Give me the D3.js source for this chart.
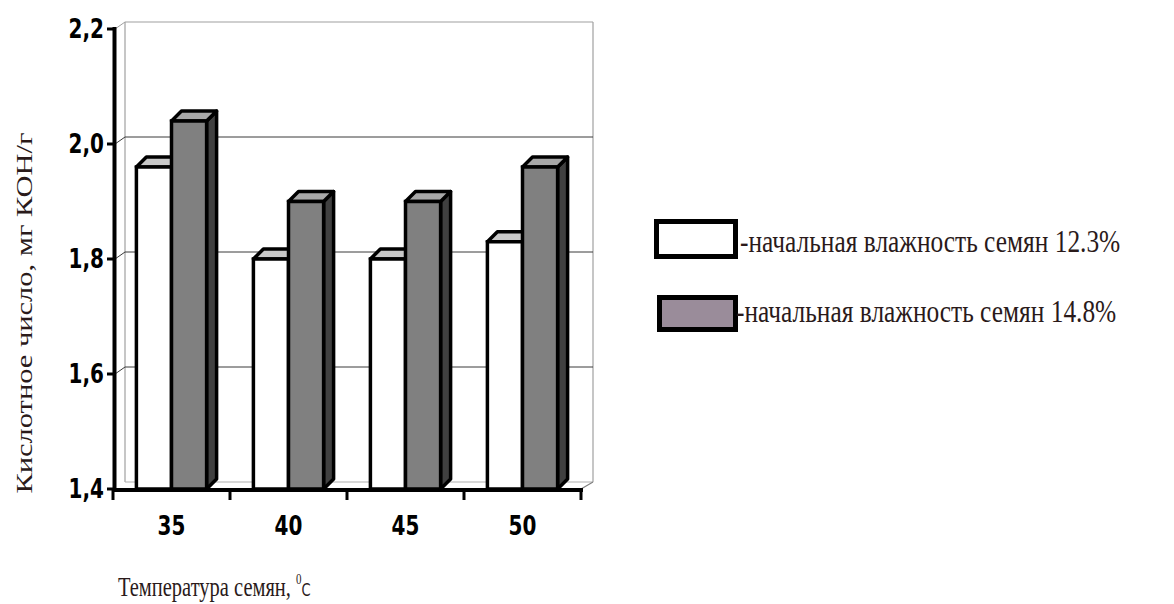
<!DOCTYPE html>
<html>
<head>
<meta charset="utf-8">
<script src="https://cdn.jsdelivr.net/npm/d3@7"></script>
<style>
  html, body { margin: 0; padding: 0; background: #fff; }
  svg { display: block; }
</style>
</head>
<body>
<svg id="chart" width="1174" height="604"></svg>
<script>
// Seed temperature groups and acid number per initial moisture level
const categories = ["35", "40", "45", "50"];
const moisture123 = [1.96, 1.80, 1.80, 1.83];
const moisture148 = [2.04, 1.90, 1.90, 1.96];
const yTicks = [1.4, 1.6, 1.8, 2.0, 2.2];
const yTickLabels = ["1,4", "1,6", "1,8", "2,0", "2,2"];
const seriesNames = ["-начальная влажность семян 12.3%", "-начальная влажность семян 14.8%"];
const yTitle = "Кислотное число, мг КОН/г";
const xTitle = "Температура семян, ";

const svg = d3.select("#chart");
const SY = 1.36;              // vertical stretch of the lettering
const wall = { dx: 12, dy: -7 };  // offset of the back wall
const depth = { dx: 10, dy: -10 }; // column depth

const x = d3.scaleBand().domain(categories).range([113, 581]).padding(0);
const y = d3.scaleLinear().domain([1.4, 2.2]).range([489, 29]);
const baseY = y(1.4);

// back wall and floor
const g = svg.append("g");
const wx0 = 113 + wall.dx, wx1 = 581 + wall.dx;
g.append("line").attr("x1", wx0).attr("x2", wx0)
  .attr("y1", y(2.2) + wall.dy).attr("y2", baseY + wall.dy)
  .attr("stroke", "#a0a0a0").attr("stroke-width", 1.2);
g.append("line").attr("x1", wx1).attr("x2", wx1)
  .attr("y1", y(2.2) + wall.dy).attr("y2", baseY + wall.dy)
  .attr("stroke", "#a0a0a0").attr("stroke-width", 1.2);
g.append("line").attr("x1", wx0).attr("x2", wx1)
  .attr("y1", baseY + wall.dy).attr("y2", baseY + wall.dy)
  .attr("stroke", "#b0b0b0").attr("stroke-width", 1.2);
g.append("line").attr("x1", wx1).attr("x2", 581)
  .attr("y1", baseY + wall.dy).attr("y2", baseY)
  .attr("stroke", "#808080").attr("stroke-width", 1.2);

// gridlines on the back wall, joined to the axis ticks
yTicks.filter(v => v > 1.4).forEach(v => {
  const top = v === 2.2;
  g.append("line").attr("x1", wx0).attr("x2", wx1)
    .attr("y1", y(v) + wall.dy).attr("y2", y(v) + wall.dy)
    .attr("stroke", top ? "#a0a0a0" : "#3a3a3a").attr("stroke-width", top ? 1.2 : 1);
  g.append("line").attr("x1", 115).attr("x2", wx0)
    .attr("y1", y(v)).attr("y2", y(v) + wall.dy)
    .attr("stroke", top ? "#a0a0a0" : "#3a3a3a").attr("stroke-width", 1);
});

// 3D columns
const bw = x.bandwidth() * 0.3;
const series = [
  { values: moisture123, front: "#ffffff", top: "#c8c8c8", side: "#9a9a9a", off: -bw },
  { values: moisture148, front: "#808080", top: "#a8a8a8", side: "#404040", off: 0 }
];
const bars = svg.append("g");
categories.forEach((c, i) => {
  const cx = x(c) + x.bandwidth() / 2;
  series.forEach(s => {
    const x0 = cx + s.off, x1 = x0 + bw;
    const yt = y(s.values[i]);
    const sw = 3.5;
    // right side
    bars.append("path")
      .attr("d", `M${x1},${baseY} L${x1 + depth.dx},${baseY + depth.dy} L${x1 + depth.dx},${yt + depth.dy} L${x1},${yt} Z`)
      .attr("fill", s.side).attr("stroke", "#000").attr("stroke-width", sw).attr("stroke-linejoin", "round");
    // top
    bars.append("path")
      .attr("d", `M${x0},${yt} L${x0 + depth.dx},${yt + depth.dy} L${x1 + depth.dx},${yt + depth.dy} L${x1},${yt} Z`)
      .attr("fill", s.top).attr("stroke", "#000").attr("stroke-width", sw).attr("stroke-linejoin", "round");
    // front
    bars.append("rect")
      .attr("x", x0).attr("y", yt).attr("width", bw).attr("height", baseY - yt)
      .attr("fill", s.front).attr("stroke", "#000").attr("stroke-width", sw);
  });
});

// axes
const ax = svg.append("g");
ax.append("line").attr("x1", 114.5).attr("x2", 114.5).attr("y1", 27).attr("y2", 492)
  .attr("stroke", "#000").attr("stroke-width", 4);
ax.append("line").attr("x1", 112).attr("x2", 583).attr("y1", 490).attr("y2", 490)
  .attr("stroke", "#000").attr("stroke-width", 4);
yTicks.forEach(v => {
  ax.append("line").attr("x1", 107).attr("x2", 115).attr("y1", y(v)).attr("y2", y(v))
    .attr("stroke", "#000").attr("stroke-width", 3);
});
const bounds = categories.map(c => x(c)).concat([x(categories[categories.length - 1]) + x.bandwidth()]);
bounds.forEach(bx => {
  ax.append("line").attr("x1", bx).attr("x2", bx).attr("y1", 490).attr("y2", 500)
    .attr("stroke", "#000").attr("stroke-width", 3);
});

// stretched text helper
function label(px, py, txt, opts) {
  const t = svg.append("text")
    .attr("transform", `translate(${px},${py}) ${opts.rotate ? "rotate(-90) scale(" + SY + ",1)" : "scale(1," + (opts.sy || SY) + ")"}`)
    .attr("font-family", opts.family)
    .attr("font-size", opts.size)
    .attr("font-weight", opts.weight || "normal")
    .attr("fill", opts.fill || "#000")
    .attr("text-anchor", opts.anchor || "start")
    .text(txt);
  return t;
}

yTicks.forEach((v, i) => {
  label(104, y(v) + 9, yTickLabels[i], { family: "DejaVu Sans", size: 20, weight: "bold", anchor: "end" });
});
categories.forEach(c => {
  label(x(c) + x.bandwidth() / 2, 535, c, { family: "DejaVu Sans", size: 20, weight: "bold", anchor: "middle" });
});

label(32, 313, yTitle, { family: "Liberation Serif", size: 22.4, anchor: "middle", rotate: true, fill: "#2a1a1a" });
const xt = label(118, 596, xTitle, { family: "Liberation Serif", size: 20.5, fill: "#2a1a1a" });
xt.append("tspan").attr("font-size", 11).attr("dy", -9).text("0");
xt.append("tspan").attr("font-family", "DejaVu Sans").attr("font-size", 13).attr("dy", 9).text("C");

// legend
const lg = svg.append("g");
const legendFills = ["#ffffff", "#9a8c9a"];
const legendRows = [{ bx: 654, by: 219, bw: 84, bh: 40, tx: 740, ty: 252 },
                    { bx: 657, by: 295, bw: 81, bh: 37, tx: 736, ty: 322 }];
legendRows.forEach((r, i) => {
  lg.append("rect").attr("x", r.bx + 2.5).attr("y", r.by + 2.5)
    .attr("width", r.bw - 5).attr("height", r.bh - 5)
    .attr("fill", legendFills[i]).attr("stroke", "#000").attr("stroke-width", 5);
  label(r.tx, r.ty, seriesNames[i], { family: "Liberation Serif", size: 25.4, sy: 1.25, fill: "#2a1a1a" });
});
</script>
</body>
</html>
